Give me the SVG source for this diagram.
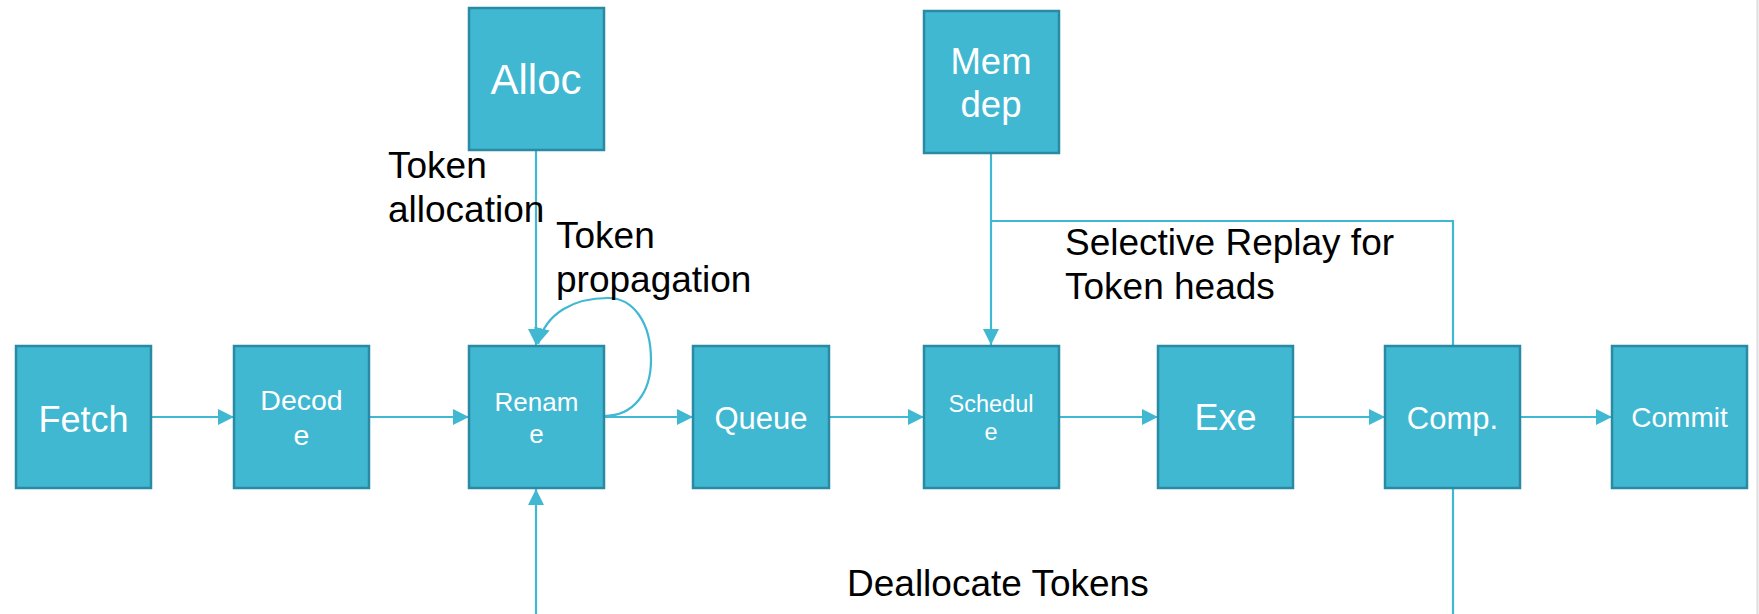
<svg xmlns="http://www.w3.org/2000/svg" width="1759" height="614" viewBox="0 0 1759 614">
  <style>
    .box { fill: #41b8d2; stroke: #2b8aa3; stroke-width: 2.5; }
    .wt { fill: #ffffff; font-family: "Liberation Sans", Arial, sans-serif; text-anchor: middle; }
    .lbl { fill: #000000; font-family: "Liberation Sans", Arial, sans-serif; font-size: 37px; }
    .wire { fill: none; stroke: #41b8d2; stroke-width: 2.2; }
  </style>
  <defs>
    <marker id="arrow" viewBox="0 0 16 16" refX="16" refY="8" markerWidth="16" markerHeight="16" markerUnits="userSpaceOnUse" orient="auto">
      <path d="M0,0 L16,8 L0,16 Z" fill="#41b8d2"/>
    </marker>
  </defs>

  <rect width="1759" height="614" fill="#ffffff"/>
  <line x1="1757.5" y1="0" x2="1757.5" y2="614" stroke="#dedede" stroke-width="2"/>

  <!-- connectors -->
  <g id="connectors">
    <line class="wire" x1="151" y1="417" x2="234" y2="417" marker-end="url(#arrow)"/>
    <line class="wire" x1="369" y1="417" x2="469" y2="417" marker-end="url(#arrow)"/>
    <line class="wire" x1="604" y1="417" x2="693" y2="417" marker-end="url(#arrow)"/>
    <line class="wire" x1="829" y1="417" x2="924" y2="417" marker-end="url(#arrow)"/>
    <line class="wire" x1="1059" y1="417" x2="1158" y2="417" marker-end="url(#arrow)"/>
    <line class="wire" x1="1293" y1="417" x2="1385" y2="417" marker-end="url(#arrow)"/>
    <line class="wire" x1="1520" y1="417" x2="1612" y2="417" marker-end="url(#arrow)"/>
    <!-- token allocation -->
    <line class="wire" x1="536" y1="151" x2="536" y2="345" marker-end="url(#arrow)"/>
    <!-- token propagation loop -->
    <path class="wire" d="M604,416 C634,416 651,392 651,360 C651,322 633,298 608,298 C575,298 546,312 538,344" marker-end="url(#arrow)"/>
    <!-- memory dependence to schedule -->
    <line class="wire" x1="991" y1="154" x2="991" y2="345" marker-end="url(#arrow)"/>
    <!-- selective replay branch -->
    <polyline class="wire" points="991,221 1453,221 1453,346"/>
    <!-- deallocate tokens loop -->
    <polyline class="wire" points="1453,488 1453,618 536,618 536,489" marker-end="url(#arrow)"/>
  </g>

  <g id="alloc">
    <rect class="box" x="469" y="8" width="135" height="142"/>
    <text class="wt" x="536" y="94" font-size="42">Alloc</text>
  </g>
  <g id="memdep">
    <rect class="box" x="924" y="11" width="135" height="142"/>
    <text class="wt" x="991" y="74" font-size="36.5">Mem</text>
    <text class="wt" x="991" y="117" font-size="36.5">dep</text>
  </g>
  <g id="fetch">
    <rect class="box" x="16" y="346" width="135" height="142"/>
    <text class="wt" x="83.5" y="431.5" font-size="36">Fetch</text>
  </g>
  <g id="decode">
    <rect class="box" x="234" y="346" width="135" height="142"/>
    <text class="wt" x="301.5" y="410" font-size="28.5">Decod</text>
    <text class="wt" x="301.5" y="445" font-size="28.5">e</text>
  </g>
  <g id="rename">
    <rect class="box" x="469" y="346" width="135" height="142"/>
    <text class="wt" x="536.5" y="411" font-size="26">Renam</text>
    <text class="wt" x="536.5" y="443" font-size="26">e</text>
  </g>
  <g id="queue">
    <rect class="box" x="693" y="346" width="136" height="142"/>
    <text class="wt" x="761" y="428.5" font-size="31">Queue</text>
  </g>
  <g id="schedule">
    <rect class="box" x="924" y="346" width="135" height="142"/>
    <text class="wt" x="991" y="411.5" font-size="23.5">Schedul</text>
    <text class="wt" x="991" y="439.5" font-size="23.5">e</text>
  </g>
  <g id="exe">
    <rect class="box" x="1158" y="346" width="135" height="142"/>
    <text class="wt" x="1225.5" y="430" font-size="36">Exe</text>
  </g>
  <g id="comp">
    <rect class="box" x="1385" y="346" width="135" height="142"/>
    <text class="wt" x="1452.5" y="428.5" font-size="31">Comp.</text>
  </g>
  <g id="commit">
    <rect class="box" x="1612" y="346" width="135" height="142"/>
    <text class="wt" x="1679.5" y="426.5" font-size="28">Commit</text>
  </g>

  <g id="labels">
    <text class="lbl" x="388" y="178">Token</text>
    <text class="lbl" x="388" y="221.5">allocation</text>
    <text class="lbl" x="556" y="248">Token</text>
    <text class="lbl" x="556" y="292">propagation</text>
    <text class="lbl" x="1065" y="255">Selective Replay for</text>
    <text class="lbl" x="1065" y="299">Token heads</text>
    <text class="lbl" x="847" y="596">Deallocate Tokens</text>
  </g>
</svg>
